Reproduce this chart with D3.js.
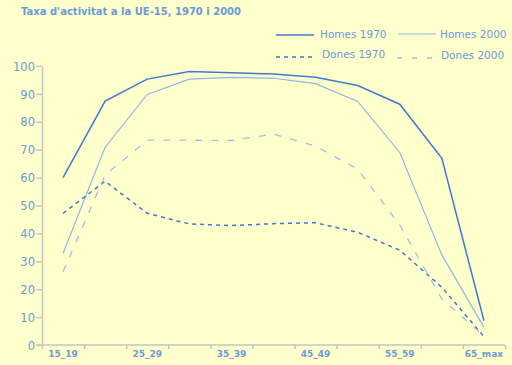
<!DOCTYPE html>
<html><head><meta charset="utf-8">
<script src="https://cdn.jsdelivr.net/npm/d3@7"></script>
<style>
html,body{margin:0;padding:0;background:#ffffcc;}
svg{display:block;}
text{font-family:"DejaVu Sans",Verdana,sans-serif;fill:#6a9bd8;}
</style></head>
<body>
<script>
const categories = ["15_19","20_24","25_29","30_34","35_39","40_44","45_49","50_54","55_59","60_64","65_max"];
const homes1970 = [60, 87.4, 95.3, 98, 97.6, 97.1, 96, 93, 86.3, 66.9, 8.7];
const homes2000 = [32.9, 70.9, 89.8, 95.3, 95.9, 95.6, 93.7, 87.3, 69, 32.3, 6.3];
const dones1970 = [47.2, 58.7, 47.2, 43.4, 42.8, 43.5, 43.8, 40.4, 34, 20.7, 3];
const dones2000 = [26.3, 60.9, 73.4, 73.4, 73.3, 75.6, 71.3, 63, 43, 16.5, 3.2];
const yTicks = [0,10,20,30,40,50,60,70,80,90,100];
const xLabels = ["15_19","25_29","35_39","45_49","55_59","65_max"];
const title = "Taxa d'activitat a la UE-15, 1970 i 2000";
const seriesNames = ["Homes 1970","Homes 2000","Dones 1970","Dones 2000"];

const W = 512, H = 365;
const svg = d3.select("body").append("svg").attr("width", W).attr("height", H);
svg.append("rect").attr("width", W).attr("height", H).attr("fill", "#ffffcc");

const x = d3.scaleBand().domain(categories).range([42, 505]).padding(0);
const y = d3.scaleLinear().domain([0, 100]).range([345, 66]);
const xi = d3.scaleLinear().domain([0, categories.length]).range([42, 505]);

const axisColor = "#c4c4c4";
const textColor = "#6a9bd8";

// Y axis
const ya = svg.append("g").attr("transform", "translate(42,0)")
  .call(d3.axisLeft(y).tickValues(yTicks).tickSize(6).tickSizeOuter(0).tickPadding(1));
ya.select(".domain").attr("stroke", axisColor).attr("stroke-width", 1.5);
ya.selectAll(".tick line").attr("stroke", axisColor).attr("stroke-width", 1.5);
ya.selectAll(".tick text").style("font-size", "11.5px").attr("fill", textColor).attr("dy", "0.36em");

// X axis tick marks (band boundaries)
const xa = svg.append("g").attr("transform", "translate(0,345)")
  .call(d3.axisBottom(xi).tickValues(d3.range(categories.length + 1)).tickSize(4).tickFormat(""));
xa.select(".domain").remove();
xa.selectAll(".tick line").attr("stroke", axisColor).attr("stroke-width", 1.5);
svg.append("line").attr("x1", 36).attr("x2", 505).attr("y1", 345).attr("y2", 345)
  .attr("stroke", axisColor).attr("stroke-width", 1.5);

// X labels
const xl = svg.append("g").attr("transform", "translate(0,345)")
  .call(d3.axisBottom(x).tickValues(xLabels).tickSize(0).tickPadding(6));
xl.select(".domain").remove();
xl.selectAll(".tick text").style("font-size", "9px").style("font-weight", "bold").attr("fill", textColor);

// Lines
const line = d3.line().x((d, i) => x(categories[i]) + x.bandwidth() / 2).y(d => y(d));
const styles = [
  {data: homes1970, color: "#3d7ad6", w: 1.5, dash: null},
  {data: homes2000, color: "#8fb6ec", w: 1.2, dash: null},
  {data: dones1970, color: "#3d7ad6", w: 1.5, dash: "4,4"},
  {data: dones2000, color: "#9ec0ee", w: 1.3, dash: "7,9"}
];
styles.forEach(s => {
  svg.append("path").datum(s.data).attr("d", line)
    .attr("fill", "none").attr("stroke", s.color).attr("stroke-width", s.w)
    .attr("stroke-dasharray", s.dash);
});

// Title
svg.append("text").attr("x", 21).attr("y", 15).text(title)
  .style("font-size", "10px").style("font-weight", "bold").attr("fill", textColor);

// Legend
const legPos = [
  {x1: 276, x2: 314, y: 35, tx: 320, ty: 38},
  {x1: 398, x2: 436, y: 34, tx: 440, ty: 38},
  {x1: 276, x2: 312, y: 57, tx: 322, ty: 58},
  {x1: 397, x2: 434, y: 58, tx: 441, ty: 59}
];
seriesNames.forEach((n, i) => {
  const p = legPos[i], s = styles[i];
  svg.append("line").attr("x1", p.x1).attr("x2", p.x2).attr("y1", p.y).attr("y2", p.y)
    .attr("stroke", s.color).attr("stroke-width", s.w).attr("stroke-dasharray", i === 3 ? "5,10" : s.dash);
  svg.append("text").attr("x", p.tx).attr("y", p.ty).text(n)
    .style("font-size", "10.5px").attr("fill", textColor);
});
</script>
</body></html>
